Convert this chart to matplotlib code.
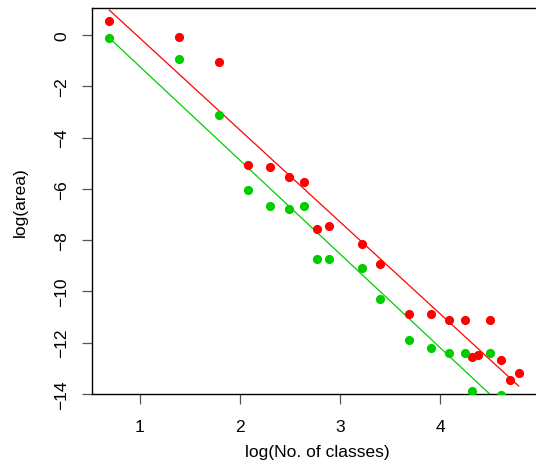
import numpy as np
import matplotlib
matplotlib.use("Agg")
import matplotlib.pyplot as plt

plt.rcParams['font.family'] = ['Liberation Sans', 'DejaVu Sans']

# log of the number of classes
log_classes = [0.693, 1.386, 1.792, 2.079, 2.303, 2.485, 2.639, 2.773, 2.890,
               3.219, 3.401, 3.689, 3.912, 4.094, 4.248, 4.317, 4.382, 4.500,
               4.605, 4.700, 4.787]

# log(area) for the two series
log_area_red = [0.55, -0.08, -1.05, -5.06, -5.14, -5.53, -5.73, -7.56, -7.44,
                -8.14, -8.92, -10.87, -10.87, -11.10, -11.10, -12.54, -12.48,
                -11.10, -12.67, -13.44, -13.18]
log_area_green = [-0.12, -0.93, -3.13, -6.04, -6.67, -6.78, -6.67, -8.74, -8.72,
                  -9.10, -10.28, -11.88, -12.20, -12.42, -12.42, -13.87, np.nan,
                  -12.42, -14.05, np.nan, np.nan]

# fitted lines: (intercept, slope)
fit_red = (3.45, -3.58)
fit_green = (2.41, -3.65)

x_ticks = [1, 2, 3, 4, 5]
y_ticks = [0, -2, -4, -6, -8, -10, -12, -14]

RED = "#FF0000"
GREEN = "#00CD00"

W, H = 536, 464
fig = plt.figure(figsize=(W / 100, H / 100), dpi=100)
left, right, top, bottom = 92, 542, 9, 395
ax = fig.add_axes([left / W, (H - bottom) / H, (right - left) / W, (bottom - top) / H])

x = np.array(log_classes)
ax.plot(x, log_area_red, 'o', color=RED, markersize=6.6, markeredgewidth=0, zorder=3)
ax.plot(x, log_area_green, 'o', color=GREEN, markersize=6.6, markeredgewidth=0, zorder=3)

xl = np.array([x.min(), x.max()])
ax.plot(xl, fit_red[0] + fit_red[1] * xl, color=RED, lw=0.9, zorder=2)
ax.plot(xl, fit_green[0] + fit_green[1] * xl, color=GREEN, lw=0.9, zorder=2)

ax.set_xlim(0.52, 5.02)
ax.set_ylim(-14, 1.05)

ax.set_xticks(x_ticks)
ax.set_xticklabels([str(t) for t in x_ticks])
ax.set_yticks(y_ticks)
ax.set_yticklabels(["\u2212" + str(-t) if t < 0 else str(t) for t in y_ticks],
                   rotation=90, va='center')

ax.tick_params(axis='both', direction='out', length=7.5, width=0.9,
               color='#555555', labelsize=12.5)
ax.tick_params(axis='x', pad=10.5)
ax.tick_params(axis='y', pad=9)

for s in ax.spines.values():
    s.set_linewidth(1.0)
    s.set_color('black')

ax.set_xlabel("log(No. of classes)", fontsize=12.5, labelpad=7)
ax.set_ylabel("log(area)", fontsize=12.5, labelpad=19)

fig.savefig("out.png", dpi=100)
